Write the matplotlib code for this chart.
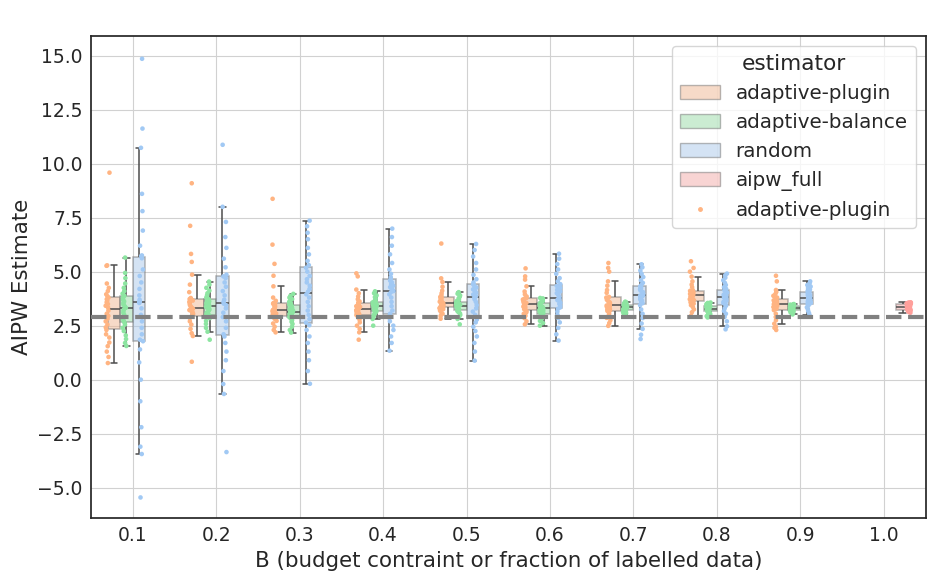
import numpy as np
import pandas as pd
import matplotlib
matplotlib.use("Agg")
import matplotlib.pyplot as plt
import seaborn as sns
from matplotlib.patches import Patch
from matplotlib.lines import Line2D
from matplotlib.colors import to_rgb
import colorsys

# categories / hue levels
budgets = ["0.1", "0.2", "0.3", "0.4", "0.5", "0.6", "0.7", "0.8", "0.9", "1.0"]
estimators = ["adaptive-plugin", "adaptive-balance", "random", "aipw_full"]
colors = ["#ffb482", "#8de5a1", "#a1c9f4", "#ff9f9b"]
true_value = 2.88

# AIPW estimates, one list per budget
plugin_vals = [
    [0.77, 1.05, 1.30, 1.55, 1.72, 1.95, 2.10, 2.30, 2.42, 2.55, 2.70, 2.82, 2.95, 3.05, 3.20,
     3.34, 3.42, 3.50, 3.58, 3.66, 3.72, 3.80, 3.86, 3.95, 4.10, 4.25, 4.45, 5.27, 5.29, 9.58],
    [0.83, 2.02, 2.15, 2.35, 2.55, 2.70, 2.85, 2.93, 2.98, 3.05, 3.12, 3.18, 3.22, 3.26, 3.28, 3.30,
     3.32, 3.38, 3.45, 3.52, 3.60, 3.66, 3.70, 3.73, 3.78, 4.05, 4.40, 4.86, 5.45, 5.82, 7.12, 9.09],
    [2.19, 2.30, 2.45, 2.60, 2.72, 2.82, 2.90, 2.94, 2.97, 3.02, 3.06, 3.10, 3.14, 3.17, 3.20, 3.21,
     3.23, 3.26, 3.30, 3.35, 3.40, 3.45, 3.50, 3.52, 3.55, 3.65, 3.80, 4.32, 4.81, 5.36, 6.25, 8.37],
    [1.85, 2.19, 2.35, 2.50, 2.65, 2.78, 2.88, 2.96, 2.99, 3.04, 3.09, 3.13, 3.18, 3.22, 3.26, 3.28,
     3.30, 3.33, 3.37, 3.40, 3.44, 3.48, 3.51, 3.53, 3.56, 3.62, 3.72, 3.85, 4.00, 4.17, 4.78, 4.92],
    [2.82, 2.95, 3.05, 3.13, 3.20, 3.26, 3.31, 3.34, 3.37, 3.41, 3.45, 3.48, 3.51, 3.53, 3.54,
     3.56, 3.58, 3.61, 3.64, 3.68, 3.73, 3.80, 3.83, 3.90, 4.00, 4.12, 4.30, 4.52, 4.69, 6.30],
    [2.56, 2.70, 2.85, 2.96, 3.05, 3.12, 3.18, 3.23, 3.26, 3.30, 3.34, 3.38, 3.42, 3.45, 3.48,
     3.52, 3.55, 3.58, 3.62, 3.66, 3.71, 3.75, 3.78, 3.85, 3.95, 4.08, 4.32, 4.63, 4.78, 5.15],
    [2.49, 2.62, 2.75, 2.86, 2.96, 3.05, 3.12, 3.18, 3.21, 3.25, 3.29, 3.33, 3.37, 3.40, 3.43, 3.45,
     3.49, 3.53, 3.58, 3.64, 3.70, 3.76, 3.80, 3.83, 4.02, 4.15, 4.35, 4.55, 5.00, 5.17, 5.40],
    [2.96, 3.12, 3.25, 3.36, 3.45, 3.52, 3.58, 3.61, 3.64, 3.68, 3.72, 3.76, 3.80, 3.84, 3.87, 3.91,
     3.94, 3.97, 4.00, 4.03, 4.05, 4.08, 4.11, 4.14, 4.28, 4.40, 4.55, 4.77, 5.00, 5.17, 5.48],
    [2.30, 2.40, 2.45, 2.59, 2.75, 2.90, 3.05, 3.22, 3.27, 3.28, 3.32, 3.36, 3.40, 3.43, 3.46, 3.49,
     3.52, 3.55, 3.58, 3.61, 3.64, 3.67, 3.70, 3.74, 3.80, 3.88, 3.96, 4.06, 4.15, 4.55, 4.81],
    [],
]
balance_vals = [
    [1.56, 1.70, 1.88, 2.05, 2.25, 2.40, 2.55, 2.64, 2.70, 2.80, 2.90, 3.00, 3.10, 3.20, 3.27,
     3.33, 3.40, 3.48, 3.55, 3.62, 3.70, 3.80, 3.88, 3.98, 4.10, 4.25, 4.45, 4.70, 4.94, 5.65],
    [1.85, 2.22, 2.40, 2.58, 2.72, 2.85, 2.93, 2.98, 3.02, 3.10, 3.18, 3.25, 3.32, 3.38, 3.41,
     3.45, 3.50, 3.54, 3.58, 3.62, 3.66, 3.69, 3.72, 3.80, 3.90, 4.00, 4.12, 4.25, 4.40, 4.54],
    [2.18, 2.30, 2.45, 2.58, 2.68, 2.76, 2.84, 2.89, 2.93, 2.97, 3.00, 3.04, 3.08, 3.11, 3.14,
     3.16, 3.19, 3.23, 3.27, 3.31, 3.36, 3.42, 3.47, 3.53, 3.60, 3.66, 3.73, 3.80, 3.88, 3.97],
    [2.50, 2.81, 2.90, 2.98, 3.04, 3.09, 3.13, 3.15, 3.18, 3.22, 3.26, 3.30, 3.34, 3.37, 3.39,
     3.41, 3.43, 3.45, 3.47, 3.50, 3.52, 3.55, 3.58, 3.62, 3.68, 3.75, 3.82, 3.90, 4.00, 4.09],
    [2.56, 2.81, 2.92, 3.00, 3.07, 3.13, 3.18, 3.22, 3.26, 3.29, 3.32, 3.35, 3.38, 3.40, 3.42,
     3.44, 3.46, 3.48, 3.50, 3.52, 3.54, 3.57, 3.60, 3.64, 3.70, 3.76, 3.83, 3.90, 3.98, 4.05],
    [2.50, 2.62, 2.72, 2.82, 2.90, 2.96, 3.01, 3.04, 3.07, 3.11, 3.15, 3.19, 3.23, 3.26, 3.29,
     3.31, 3.34, 3.37, 3.40, 3.43, 3.47, 3.50, 3.54, 3.58, 3.62, 3.66, 3.70, 3.73, 3.76, 3.78],
    [2.92, 2.98, 3.03, 3.08, 3.12, 3.16, 3.19, 3.22, 3.25, 3.27, 3.29, 3.31, 3.33, 3.34, 3.35,
     3.37, 3.38, 3.40, 3.41, 3.43, 3.44, 3.46, 3.48, 3.50, 3.52, 3.54, 3.56, 3.58, 3.59, 3.61],
    [2.88, 2.94, 2.99, 3.03, 3.07, 3.10, 3.13, 3.15, 3.17, 3.19, 3.21, 3.23, 3.25, 3.27, 3.28,
     3.30, 3.32, 3.33, 3.35, 3.37, 3.39, 3.41, 3.44, 3.46, 3.48, 3.50, 3.52, 3.54, 3.55, 3.57],
    [3.02, 3.07, 3.11, 3.14, 3.17, 3.19, 3.21, 3.22, 3.24, 3.25, 3.27, 3.28, 3.29, 3.30, 3.31,
     3.33, 3.34, 3.35, 3.36, 3.38, 3.39, 3.41, 3.42, 3.43, 3.44, 3.45, 3.46, 3.47, 3.49, 3.50],
    [],
]
random_vals = [
    [-5.45, -3.44, -3.10, -2.20, -1.00, 0.00, 0.80, 1.40, 1.78, 1.85, 2.10, 2.40, 2.70, 3.00, 3.30,
     3.55, 3.58, 3.62, 3.70, 3.90, 4.20, 4.50, 4.80, 5.10, 5.62, 5.72, 5.75, 6.20, 6.90, 7.80, 8.60,
     10.73, 11.62, 14.85],
    [-3.35, -0.66, -0.20, 0.40, 0.90, 1.30, 1.70, 2.00, 2.10, 2.40, 2.70, 2.90, 3.10, 3.30, 3.45, 3.52,
     3.60, 3.70, 3.90, 4.10, 4.30, 4.50, 4.70, 4.78, 4.86, 5.20, 5.60, 6.10, 6.60, 7.30, 8.00, 10.87],
    [-0.19, 0.40, 0.90, 1.30, 1.70, 2.00, 2.30, 2.52, 2.64, 2.80, 3.00, 3.20, 3.40, 3.60, 3.80, 3.95,
     4.07, 4.20, 4.35, 4.50, 4.65, 4.80, 5.00, 5.18, 5.30, 5.50, 5.80, 6.10, 6.50, 6.80, 7.10, 7.36],
    [1.34, 1.70, 2.00, 2.30, 2.50, 2.70, 2.85, 2.98, 3.05, 3.20, 3.40, 3.60, 3.80, 3.95, 4.05, 4.10,
     4.14, 4.20, 4.28, 4.35, 4.42, 4.50, 4.58, 4.66, 4.74, 4.90, 5.10, 5.40, 5.80, 6.20, 6.60, 6.99],
    [0.88, 1.30, 1.70, 2.00, 2.25, 2.45, 2.65, 2.78, 2.86, 3.00, 3.15, 3.30, 3.45, 3.60, 3.72, 3.80,
     3.86, 3.94, 4.02, 4.10, 4.18, 4.26, 4.34, 4.41, 4.50, 4.65, 4.85, 5.10, 5.40, 5.70, 6.00, 6.28],
    [1.81, 2.10, 2.40, 2.65, 2.85, 3.00, 3.15, 3.28, 3.34, 3.42, 3.50, 3.56, 3.62, 3.68, 3.73, 3.75,
     3.79, 3.85, 3.92, 4.00, 4.08, 4.16, 4.25, 4.34, 4.42, 4.55, 4.70, 4.90, 5.10, 5.35, 5.60, 5.83],
    [1.88, 2.08, 2.35, 2.60, 2.85, 3.05, 3.25, 3.45, 3.54, 3.60, 3.66, 3.72, 3.78, 3.83, 3.87, 3.89,
     3.91, 3.95, 4.00, 4.06, 4.12, 4.18, 4.25, 4.32, 4.38, 4.48, 4.60, 4.75, 4.90, 5.05, 5.20, 5.34],
    [2.33, 2.47, 2.70, 2.90, 3.05, 3.18, 3.30, 3.42, 3.48, 3.54, 3.60, 3.65, 3.70, 3.75, 3.79, 3.83,
     3.86, 3.90, 3.94, 3.98, 4.03, 4.08, 4.14, 4.20, 4.28, 4.38, 4.48, 4.60, 4.72, 4.83, 4.91],
    [2.98, 3.08, 3.18, 3.27, 3.35, 3.42, 3.48, 3.51, 3.54, 3.58, 3.62, 3.66, 3.70, 3.73, 3.76,
     3.80, 3.83, 3.86, 3.89, 3.92, 3.96, 4.02, 4.06, 4.11, 4.17, 4.24, 4.31, 4.38, 4.46, 4.55],
    [],
]
full_vals = [[], [], [], [], [], [], [], [], [],
    [3.10, 3.13, 3.15, 3.17, 3.19, 3.20, 3.21, 3.22, 3.23, 3.25, 3.27, 3.29, 3.31, 3.33, 3.35,
     3.37, 3.39, 3.41, 3.43, 3.45, 3.47, 3.49, 3.51, 3.52, 3.53, 3.54, 3.55, 3.56, 3.57, 3.58],
]


def desat(c, prop=0.75):
    h, l, s = colorsys.rgb_to_hls(*to_rgb(c))
    return colorsys.hls_to_rgb(h, l, s * prop)


rows = []
for est, vals in zip(estimators, [plugin_vals, balance_vals, random_vals, full_vals]):
    for b, group in zip(budgets, vals):
        for v in group:
            rows.append((b, est, v))
df = pd.DataFrame(rows, columns=["B", "estimator", "AIPW"])

sns.set_style("whitegrid", {"axes.edgecolor": ".15", "grid.color": ".82"})
plt.rcParams["font.family"] = ["DejaVu Sans"]

fig = plt.figure(figsize=(9.33, 5.82), dpi=100)
ax = fig.add_axes([0.0975, 0.110, 0.8945, 0.828])

line_kw = dict(color="0.3", linewidth=1.1)
np.random.seed(3)
sns.boxplot(data=df, x="B", y="AIPW", hue="estimator", order=budgets, hue_order=estimators,
            palette=colors, width=0.6, showfliers=False, linewidth=1.1,
            boxprops=dict(alpha=.5), whiskerprops=line_kw, capprops=line_kw,
            medianprops=line_kw, ax=ax)
sns.stripplot(data=df, x="B", y="AIPW", hue="estimator", order=budgets, hue_order=estimators,
              palette=colors, dodge=True, jitter=0.1, size=3.3, ax=ax)

ax.axhline(true_value, ls="--", color="gray", lw=3, zorder=5)

ax.set_xlim(-0.5, 9.5)
ax.set_ylim(-6.4, 15.9)
ax.xaxis.grid(True)
ax.yaxis.grid(True)
ax.set_axisbelow(True)
ax.set_xlabel("B (budget contraint or fraction of labelled data)", fontsize=15.4)
ax.set_ylabel("AIPW Estimate", fontsize=15.4)
ax.tick_params(axis="both", labelsize=13.5, length=0, pad=6)
for s in ax.spines.values():
    s.set_linewidth(1.25)
    s.set_visible(True)

handles = [Patch(facecolor=desat(c), edgecolor="0.45", alpha=.5, label=e)
           for c, e in zip(colors, estimators)]
handles.append(Line2D([], [], marker="o", ls="", color=colors[0], markersize=2.5,
                      label=estimators[0]))
ax.legend(handles=handles, title="estimator", loc="upper right", fontsize=14.3,
          title_fontsize=15.6)

fig.savefig("out.png", dpi=100)
